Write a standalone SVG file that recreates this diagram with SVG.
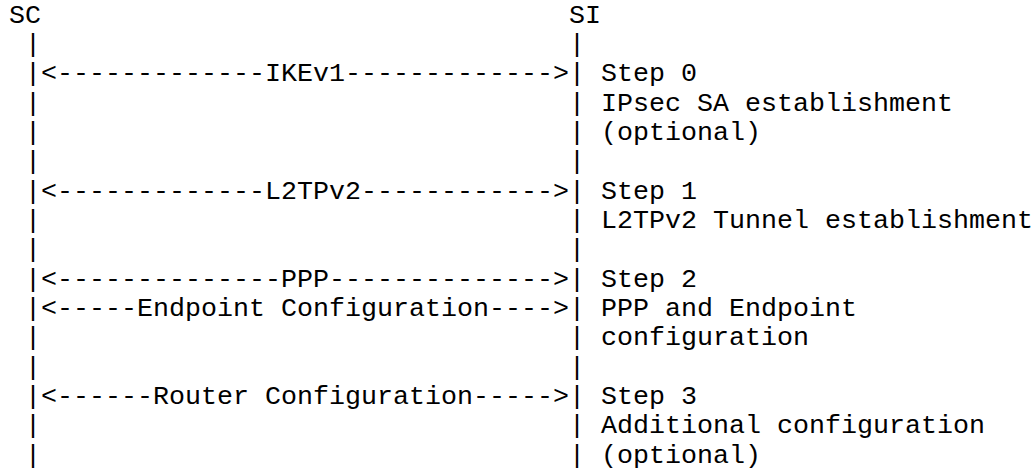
<svg xmlns="http://www.w3.org/2000/svg" width="1036" height="470" viewBox="0 0 1036 470">
  <style>
    text { font-family: "Liberation Mono", "DejaVu Sans Mono", monospace; font-size: 26.667px; fill: #000; }
    .bar { font-size: 26.667px; }
  </style>
  <rect width="1036" height="470" fill="#fff"/>

  <!-- Softwire Concentrator lifeline (column 1) -->
  <g id="sc">
    <text x="9" y="22.7">SC</text>
    <text class="bar" x="25" y="52.0">|</text>
    <text class="bar" x="25" y="81.4">|</text>
    <text class="bar" x="25" y="110.7">|</text>
    <text class="bar" x="25" y="140.0">|</text>
    <text class="bar" x="25" y="169.4">|</text>
    <text class="bar" x="25" y="198.7">|</text>
    <text class="bar" x="25" y="228.0">|</text>
    <text class="bar" x="25" y="257.3">|</text>
    <text class="bar" x="25" y="286.7">|</text>
    <text class="bar" x="25" y="316.0">|</text>
    <text class="bar" x="25" y="345.3">|</text>
    <text class="bar" x="25" y="374.7">|</text>
    <text class="bar" x="25" y="404.0">|</text>
    <text class="bar" x="25" y="433.3">|</text>
    <text class="bar" x="25" y="462.7">|</text>
  </g>

  <!-- Softwire Initiator lifeline (column 35) -->
  <g id="si">
    <text x="569" y="22.7">SI</text>
    <text class="bar" x="569" y="52.0">|</text>
    <text class="bar" x="569" y="81.4">|</text>
    <text class="bar" x="569" y="110.7">|</text>
    <text class="bar" x="569" y="140.0">|</text>
    <text class="bar" x="569" y="169.4">|</text>
    <text class="bar" x="569" y="198.7">|</text>
    <text class="bar" x="569" y="228.0">|</text>
    <text class="bar" x="569" y="257.3">|</text>
    <text class="bar" x="569" y="286.7">|</text>
    <text class="bar" x="569" y="316.0">|</text>
    <text class="bar" x="569" y="345.3">|</text>
    <text class="bar" x="569" y="374.7">|</text>
    <text class="bar" x="569" y="404.0">|</text>
    <text class="bar" x="569" y="433.3">|</text>
    <text class="bar" x="569" y="462.7">|</text>
  </g>

  <!-- Message exchanges between the lifelines -->
  <g id="connectors">
    <text x="41" y="81.4">&lt;-------------IKEv1-------------&gt;</text>
    <text x="41" y="198.7">&lt;-------------L2TPv2------------&gt;</text>
    <text x="41" y="286.7">&lt;--------------PPP--------------&gt;</text>
    <text x="41" y="316.0">&lt;-----Endpoint Configuration----&gt;</text>
    <text x="41" y="404.0">&lt;------Router Configuration-----&gt;</text>
  </g>

  <!-- Step descriptions (column 37) -->
  <g id="step0">
    <text x="601" y="81.4">Step 0</text>
    <text x="601" y="110.7">IPsec SA establishment</text>
    <text x="601" y="140.0">(optional)</text>
  </g>
  <g id="step1">
    <text x="601" y="198.7">Step 1</text>
    <text x="601" y="228.0">L2TPv2 Tunnel establishment</text>
  </g>
  <g id="step2">
    <text x="601" y="286.7">Step 2</text>
    <text x="601" y="316.0">PPP and Endpoint</text>
    <text x="601" y="345.3">configuration</text>
  </g>
  <g id="step3">
    <text x="601" y="404.0">Step 3</text>
    <text x="601" y="433.3">Additional configuration</text>
    <text x="601" y="462.7">(optional)</text>
  </g>
</svg>
